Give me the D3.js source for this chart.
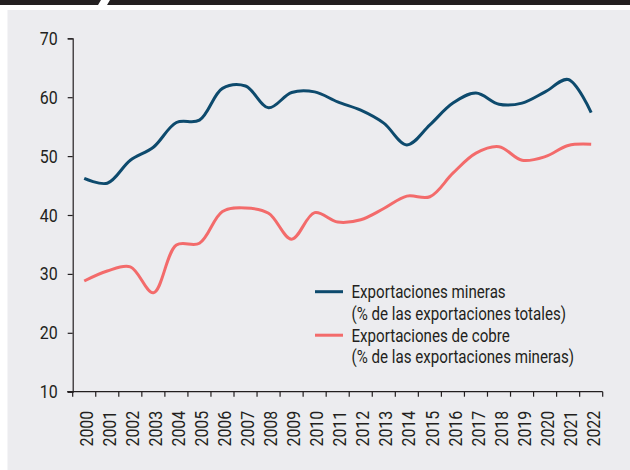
<!DOCTYPE html>
<html>
<head>
<meta charset="utf-8">
<script src="https://cdn.jsdelivr.net/npm/d3@7"></script>
<style>
  body { margin: 0; background: #fff; }
  svg { display: block; }
  text { font-family: "Roboto", "Liberation Sans", sans-serif; fill: #231f20; }
</style>
</head>
<body>
<div id="chart"></div>
<script>
// years on the x axis
const years = ["2000","2001","2002","2003","2004","2005","2006","2007","2008","2009","2010",
  "2011","2012","2013","2014","2015","2016","2017","2018","2019","2020","2021","2022"];

// Exportaciones mineras (% de las exportaciones totales)
const mineras = [46.2, 45.4, 49.3, 51.5, 55.7, 56.1, 61.5, 61.9, 58.2, 60.8, 60.9,
  59.2, 57.8, 55.6, 51.9, 55.3, 59.0, 60.7, 58.8, 59.0, 60.9, 63.0, 57.4];

// Exportaciones de cobre (% de las exportaciones mineras)
const cobre = [28.8, 30.5, 31.2, 26.8, 34.9, 35.2, 40.6, 41.2, 40.3, 35.9, 40.4,
  38.8, 39.2, 41.1, 43.2, 43.1, 47.1, 50.5, 51.6, 49.3, 49.9, 51.8, 52.0];

const yTicks = [10, 20, 30, 40, 50, 60, 70];

const legendItems = [
  { lines: ["Exportaciones mineras", "(% de las exportaciones totales)"], color: "#0d4a6d" },
  { lines: ["Exportaciones de cobre", "(% de las exportaciones mineras)"], color: "#f36b6b" }
];

const W = 630, H = 470;
const margin = { top: 38.3, right: 27.3, bottom: 78.3, left: 72.7 };
const condense = 0.84; // the original font is a condensed face

const svg = d3.select("#chart").append("svg").attr("width", W).attr("height", H);

// top black band with a slanted cut
svg.append("rect").attr("x", 0).attr("y", 0).attr("width", W).attr("height", 5).attr("fill", "#231f20");
svg.append("path").attr("d", "M101,0 L110,0 L107,5 L98,5 Z").attr("fill", "#fff");

// grey panel
svg.append("rect").attr("x", 7.5).attr("y", 10).attr("width", W - 7.5).attr("height", H - 10).attr("fill", "#ececef");

const g = svg.append("g").attr("transform", `translate(${margin.left},${margin.top})`);
const width = W - margin.left - margin.right;
const height = H - margin.top - margin.bottom;

const x = d3.scaleBand().domain(years).range([0, width]);
const y = d3.scaleLinear().domain([10, 70]).range([height, 0]);

// y axis
const yAxis = g.append("g").call(d3.axisLeft(y).tickValues(yTicks).tickSize(5).tickPadding(10));
yAxis.select(".domain").attr("stroke", "#231f20").attr("stroke-width", 1.2);
yAxis.selectAll(".tick line").attr("stroke", "#231f20").attr("stroke-width", 1.2);
yAxis.selectAll("text").attr("font-size", 19).attr("fill", "#231f20")
  .style("font-family", '"Roboto", "Liberation Sans", sans-serif');

// x axis: ticks on band edges
const xAxisG = g.append("g").attr("transform", `translate(0,${height})`);
xAxisG.append("line").attr("x1", -5.5).attr("x2", width).attr("y1", 0).attr("y2", 0)
  .attr("stroke", "#231f20").attr("stroke-width", 1.2);
const edges = years.map(d => x(d)).concat([width]);
xAxisG.selectAll(".xt").data(edges).enter().append("line")
  .attr("class", "xt")
  .attr("x1", d => d).attr("x2", d => d).attr("y1", 0).attr("y2", 5)
  .attr("stroke", "#231f20").attr("stroke-width", 1.2);
xAxisG.selectAll(".xl").data(years).enter().append("text")
  .attr("class", "xl")
  .attr("transform", d => `translate(${x(d) + x.bandwidth() / 2 + 2},19) rotate(-90)`)
  .attr("text-anchor", "end")
  .attr("dy", "0.35em")
  .attr("font-size", 19)
  .text(d => d);

// lines
const line = d3.line()
  .x((d, i) => x(years[i]) + x.bandwidth() / 2)
  .y(d => y(d))
  .curve(d3.curveCatmullRom.alpha(0.5));

g.append("path").datum(cobre)
  .attr("d", line).attr("fill", "none")
  .attr("stroke", legendItems[1].color).attr("stroke-width", 3);
g.append("path").datum(mineras)
  .attr("d", line).attr("fill", "none")
  .attr("stroke", legendItems[0].color).attr("stroke-width", 3);

// legend
const legend = svg.append("g").attr("transform", "translate(315,291.7)");
legendItems.forEach((item, i) => {
  const row = legend.append("g").attr("transform", `translate(0,${i * 43.5})`);
  row.append("line").attr("x1", 0).attr("x2", 28).attr("y1", 0).attr("y2", 0)
    .attr("stroke", item.color).attr("stroke-width", 3);
  item.lines.forEach((t, j) => {
    row.append("text").attr("x", 36.5).attr("y", 6.5 + j * 21.5)
      .attr("font-size", 18).text(t);
  });
});

// squeeze every label to mimic the condensed font
svg.selectAll("text").each(function () {
  const len = this.getComputedTextLength();
  d3.select(this).attr("textLength", len * condense).attr("lengthAdjust", "spacingAndGlyphs");
});
</script>
</body>
</html>
